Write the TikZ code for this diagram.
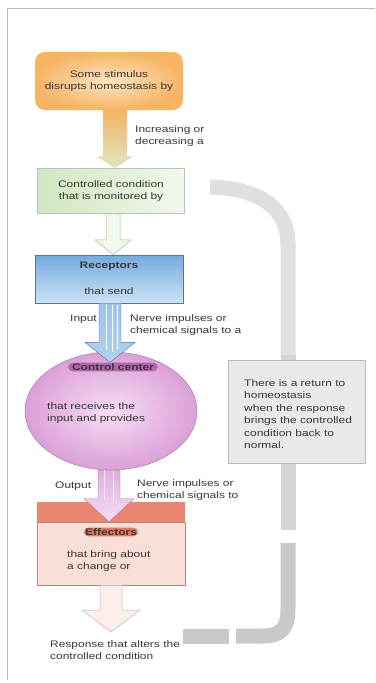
\documentclass[tikz,border=0pt]{standalone}
\usepackage{fontspec}
\setmainfont{Liberation Sans}[FakeStretch=1.26]
\usetikzlibrary{calc,shapes.geometric}
\definecolor{txt}{HTML}{383838}
\definecolor{stimOut}{HTML}{F6B464}
\definecolor{stimIn}{HTML}{FCE6C4}
\definecolor{condL}{HTML}{D0E7BF}
\definecolor{condR}{HTML}{F2F8EC}
\definecolor{recTop}{HTML}{74AADE}
\definecolor{recBot}{HTML}{CBE2F5}
\definecolor{ccOut}{HTML}{DBA0D7}
\definecolor{ccIn}{HTML}{F6DDF4}
\definecolor{ccHead}{HTML}{B465AC}
\definecolor{effHead}{HTML}{E8866F}
\definecolor{effBody}{HTML}{FADFD8}
\definecolor{band}{HTML}{C9C9C9}
\definecolor{bandLight}{HTML}{E0E0E0}
\definecolor{gbox}{HTML}{E9E9E9}
\newcommand\barrow[6]{%
  \path[#1] let \p1=#2, \p2=#3 in
    (\x1-#4pt,\y1) -- (\x1-#4pt,\y2+#6pt) -- (\x1-#5pt,\y2+#6pt) -- (\x1,\y2)
    -- (\x1+#5pt,\y2+#6pt) -- (\x1+#4pt,\y2+#6pt) -- (\x1+#4pt,\y1) -- cycle;}
\begin{document}
\begin{tikzpicture}[x=1pt,y=-1pt,
  every node/.style={font=\fontsize{9.5}{12.5}\selectfont, text=txt},
  lbl/.style={align=left, inner sep=0pt, anchor=west},
  hdr/.style={font=\fontsize{9.5}{12.5}\selectfont\bfseries, inner sep=1pt},
  stimbox/.style={rounded corners=10pt, inner color=stimIn, outer color=stimOut,
    minimum width=148pt, minimum height=58pt, align=center},
  condbox/.style={draw=gray!50, line width=0.5pt, left color=condL, right color=condR,
    minimum width=147pt, minimum height=45pt, align=center},
  recbox/.style={draw=recTop!70!black, line width=0.4pt, top color=recTop, bottom color=recBot,
    minimum width=148pt, minimum height=48pt},
  ccell/.style={ellipse, draw=ccOut!75!black, line width=0.4pt, inner color=ccIn, outer color=ccOut,
    minimum width=172pt, minimum height=118pt},
  effbox/.style={draw=effHead!60!gray, line width=0.5pt, fill=effBody,
    minimum width=148pt, minimum height=63pt},
  bandline/.style={line width=15pt, color=band},
]
\useasboundingbox (0,0) rectangle (375,683);
\fill[white] (0,0) rectangle (375,683);
% frame
\draw[gray!55, line width=0.7pt] (7,680) -- (7,8) -- (375,8);

% feedback band
\draw[bandline, color=bandLight] (210,187) .. controls (255,188) and (288,205) .. (288,245) -- (288,360);
\draw[bandline, color=band!80] (288,355) -- (288,530);
\draw[bandline] (288,543) -- (288,608) .. controls (288,628) and (282,636) .. (262,636) -- (236,636);
\draw[bandline] (229,636) -- (183,636);

% gray box
\node[draw=gray!55, line width=0.5pt, fill=gbox, minimum width=137pt, minimum height=103pt,
  inner sep=0pt] (gb) at (296.5,411.5) {};
\node[lbl] at (244,414) {There is a return to\\homeostasis\\when the response\\brings the controlled\\condition back to\\normal.};

% boxes
\node[stimbox] (stim) at (109,81) {Some stimulus\\disrupts homeostasis by};
\node[condbox] (cond) at (111,191) {Controlled condition\\that is monitored by};
\node[recbox] (rec) at (109,279) {};
\node[hdr] at (rec.north |- 0,266) {Receptors};
\node at (rec.north |- 0,291) {that send};
\node[ccell] (cc) at (111,411) {};
\node[hdr, fill=ccHead, rounded corners=5pt, inner xsep=4pt] (cchead) at (113,367) {Control center};
\node[lbl] at (47,413) {that receives the\\input and provides};
\node[effbox] (eff) at (111,553.5) {};
\fill[effHead] (eff.north west) rectangle ($(eff.north east)+(0,-20)$);
\node[hdr, fill=effHead!85!red, rounded corners=5pt] (effhead) at (111,532) {Effectors};
\node[lbl] at (67,561) {that bring about\\a change or};
\coordinate (resp) at (111,632);
\node[lbl] at (50,650) {Response that alters the\\controlled condition};

% arrows
\barrow{top color=stimOut, bottom color=condL!70!stimIn}{($(stim.south)+(6,0)$)}{(cond.north)}{12}{18}{12}
\barrow{draw=gray!60, line width=0.5pt, fill=condR}{($(cond.south)+(2,0)$)}{(rec.north)}{7}{18}{15}
\barrow{draw=recTop!70!black, line width=0.4pt, top color=recTop!70, bottom color=recTop!55!white}{($(rec.south)+(1,0)$)}{(cchead.north)}{11}{25}{20}
\draw[white, line width=0.8pt] (106,305) -- (106,350) (112,305) -- (112,352) (117,305) -- (117,349);
\barrow{draw=ccOut!75!black, line width=0.4pt, top color=ccOut!85, bottom color=ccIn}{($(cc.south)+(-2,0)$)}{(eff.north)}{11}{25}{23}
\draw[white!75!ccOut, line width=0.8pt] (104,470) -- (104,500) (113,470) -- (113,502);
\barrow{draw=gray!55, line width=0.5pt, fill=effBody!50!white}{(eff.south)}{(resp)}{11}{29}{22}

% labels
\node[lbl] at (135,136) {Increasing or\\decreasing a};
\node[lbl] at (70,319) {Input};
\node[lbl] at (130,325) {Nerve impulses or\\chemical signals to a};
\node[lbl] at (55,486) {Output};
\node[lbl] at (137,490) {Nerve impulses or\\chemical signals to};
\end{tikzpicture}
\end{document}
